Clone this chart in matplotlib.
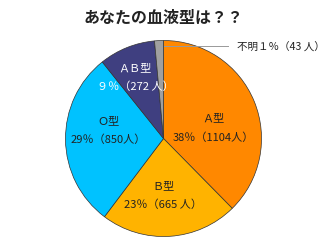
import matplotlib.pyplot as plt

plt.rcParams['font.family'] = ['Noto Sans CJK JP', 'DejaVu Sans']

# データ (人数)
types = ['Ａ型', 'Ｂ型', 'Ｏ型', 'ＡＢ型', '不明']
counts = [1104, 665, 850, 272, 43]
pct_labels = ['38％（1104人）', '23％（665 人）', '29％（850人）', '９％（272 人）', '１％（43 人）']
colors = ['#FF8800', '#FFB300', '#00C2FF', '#3F3F80', '#A0A0A0']

fig = plt.figure(figsize=(3.28, 2.5), dpi=100)
fig.text(0.5, 0.93, 'あなたの血液型は？？', ha='center', va='center',
         fontsize=11.5, fontweight='bold', color='#222222')

ax = fig.add_axes([65 / 328, 13 / 250, 197 / 328, 197 / 250])
ax.pie(counts, colors=colors, startangle=90, counterclock=False, radius=1,
       wedgeprops=dict(edgecolor='#333333', linewidth=0.5))
ax.set_xlim(-1.005, 1.005)
ax.set_ylim(-1.005, 1.005)
ax.set_aspect('equal')
ax.axis('off')

# ラベル位置
pos = [(0.51, 0.21, 0.01), (0.0, -0.49, -0.68), (-0.56, 0.18, -0.01), (-0.29, 0.72, 0.53)]
txt_col = ['#222222', '#222222', '#222222', 'white']
for i, (x, y1, y2) in enumerate(pos):
    ax.text(x, y1, types[i], ha='center', va='center', fontsize=8, color=txt_col[i])
    ax.text(x, y2, pct_labels[i], ha='center', va='center', fontsize=8, color=txt_col[i])

# 不明 の引き出し線
ax.plot([0.0, 0.66], [0.94, 0.94], color='#999999', lw=0.7, clip_on=False)
ax.text(0.745, 0.94, types[4] + pct_labels[4], ha='left', va='center',
        fontsize=7.6, color='#222222', clip_on=False)

fig.savefig('out.png', dpi=100)
